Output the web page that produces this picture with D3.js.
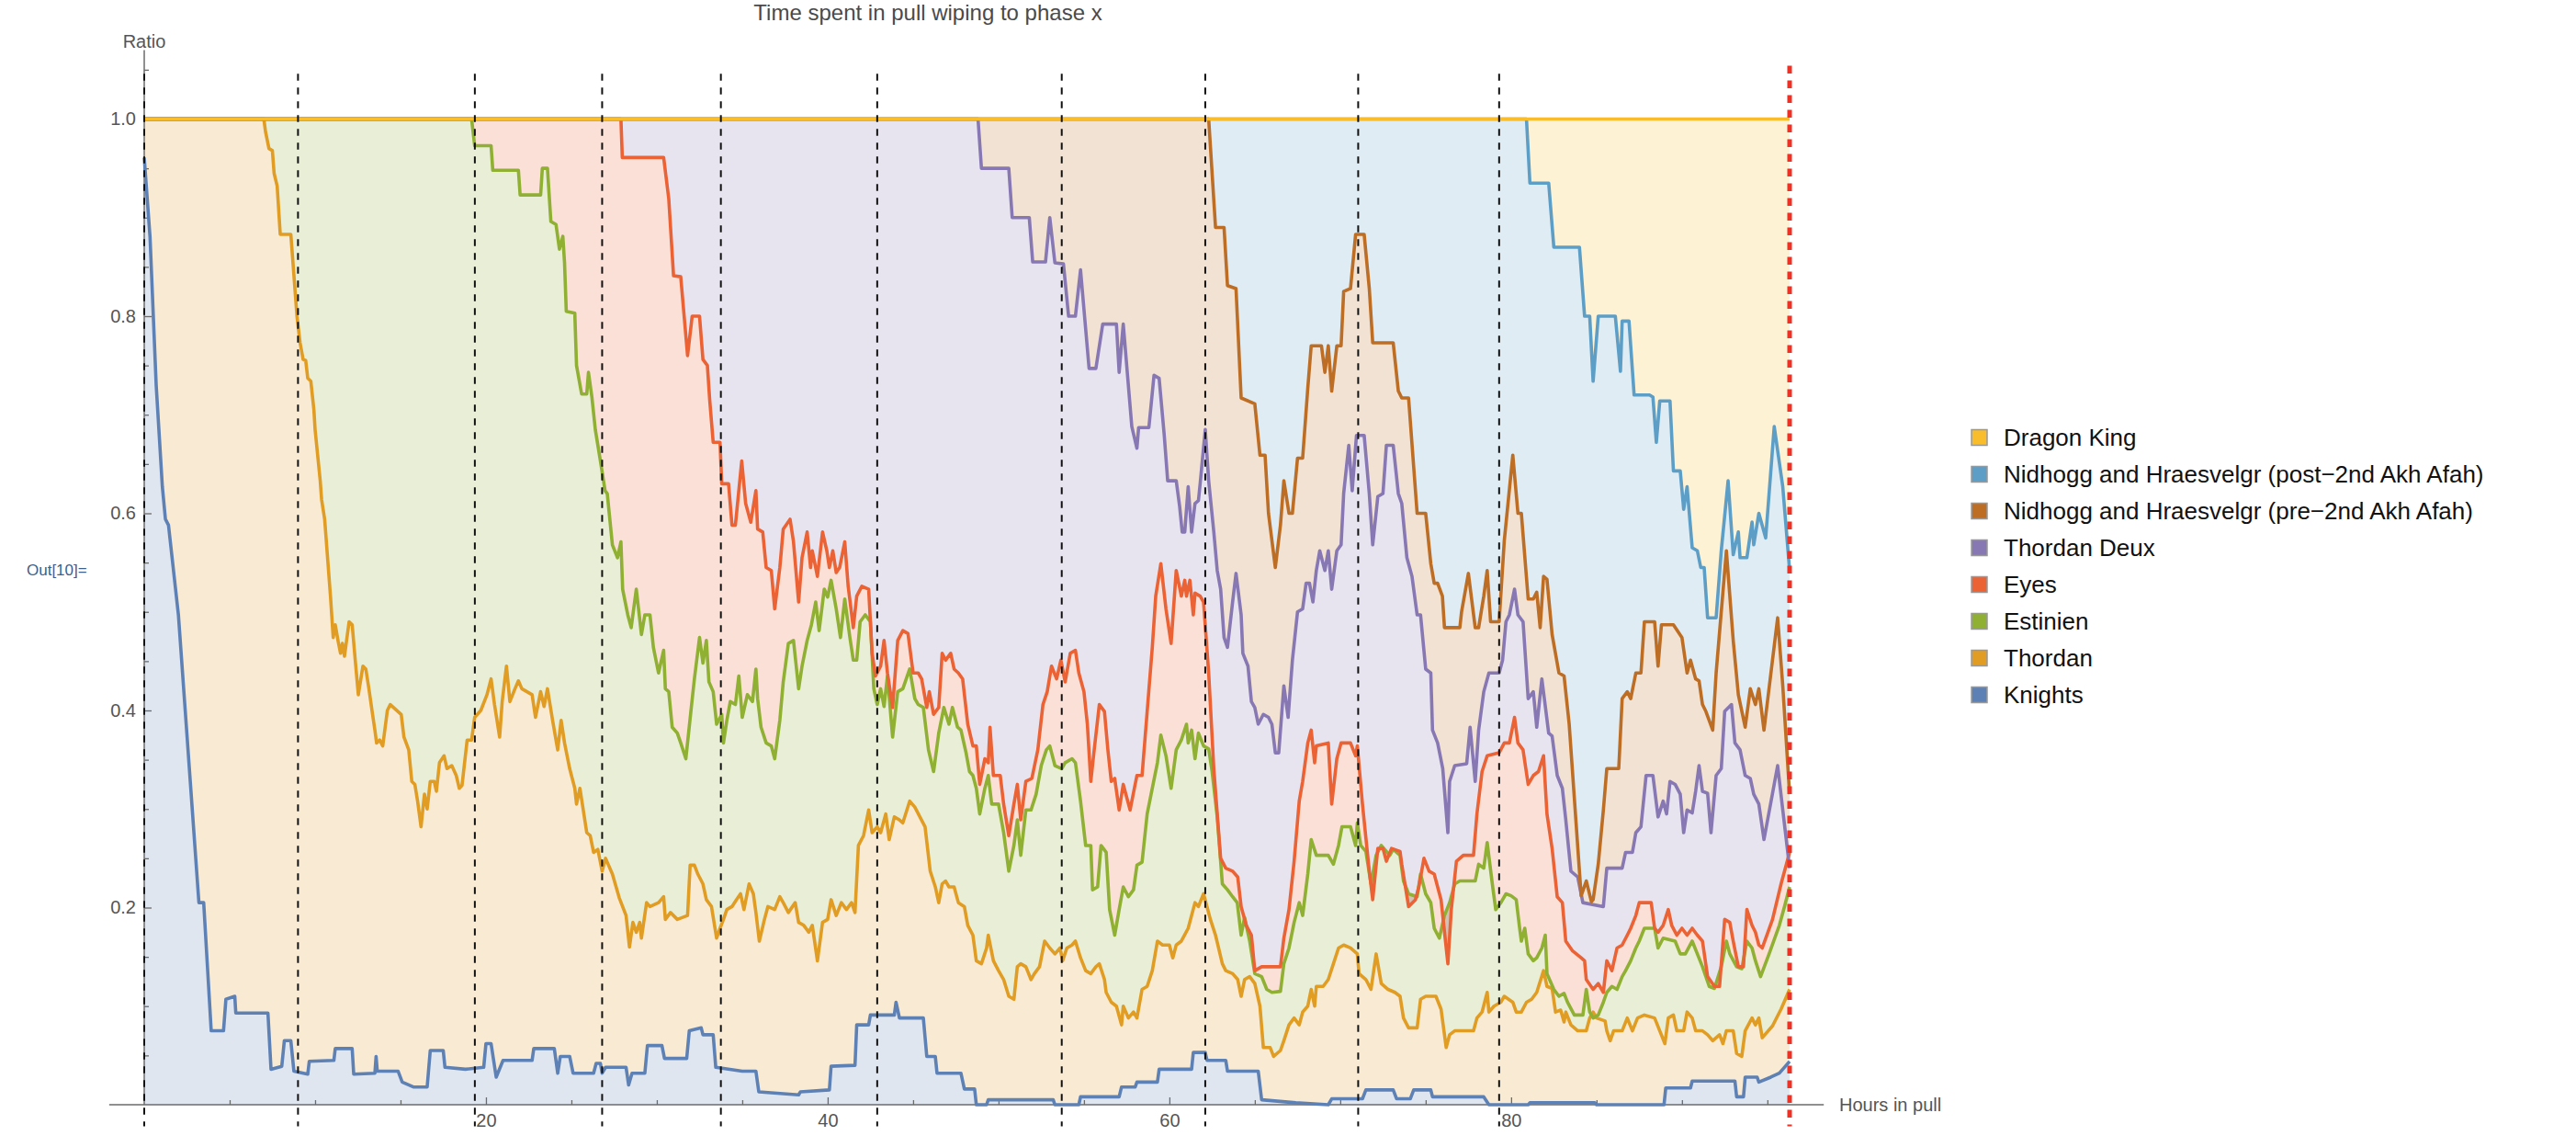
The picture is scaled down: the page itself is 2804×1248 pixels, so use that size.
<!DOCTYPE html>
<meta charset="utf-8">
<html>
<head>
    <script src="https://d3js.org/d3.v7.min.js"></script>
    <style>
        body { margin: 0; background: #fff; }
        text { font-family: "Liberation Sans", Arial, sans-serif; }
    </style>
</head>
<body>
<script>

    // [hours in pull, cumulative ratio], one array per phase
    var knights = [
        [0,0.961],[0.34,0.88],[0.7,0.73],[1.06,0.627],[1.24,0.594],[1.42,0.588],[2.0,0.497],[3.2,0.205],[3.48,0.205],
        [3.92,0.075],[4.64,0.075],[4.78,0.107],[5.3,0.11],[5.36,0.093],[7.24,0.093],[7.42,0.036],[8.05,0.039],[8.2,0.065],
        [8.58,0.065],[8.76,0.034],[9.57,0.031],[9.66,0.044],[11.1,0.045],[11.18,0.057],[12.17,0.057],[12.26,0.031],[13.5,0.032],
        [13.57,0.049],[13.64,0.034],[14.86,0.034],[15.1,0.023],[15.75,0.018],[16.56,0.018],[16.74,0.055],[17.5,0.055],[17.6,0.038],
        [18.8,0.036],[19.87,0.038],[20.0,0.062],[20.3,0.062],[20.6,0.028],[21.0,0.045],[22.7,0.045],[22.8,0.057],[24.0,0.057],
        [24.2,0.032],[24.35,0.049],[24.9,0.049],[25.1,0.032],[26.3,0.032],[26.45,0.042],[26.7,0.042],[26.8,0.032],[27.0,0.038],
        [28.2,0.038],[28.35,0.02],[28.55,0.032],[29.3,0.032],[29.45,0.06],[30.3,0.06],[30.45,0.047],[31.75,0.047],[31.9,0.075],
        [32.6,0.078],[32.7,0.071],[33.3,0.071],[33.45,0.038],[35.0,0.034],[35.8,0.034],[35.97,0.013],[38.3,0.01],[38.4,0.013],
        [40.1,0.015],[40.2,0.039],[41.6,0.04],[41.7,0.081],[42.4,0.081],[42.5,0.091],[43.9,0.091],[44.0,0.104],[44.2,0.088],
        [45.6,0.088],[45.8,0.049],[46.3,0.049],[46.4,0.032],[47.8,0.032],[48.0,0.016],[48.6,0.016],[48.7,0.0],[49.3,0.0],
        [49.4,0.005],[53.2,0.005],[53.3,0.0],[54.7,0.0],[54.8,0.008],[57.06,0.008],[57.2,0.018],[58.0,0.018],[58.1,0.023],
        [59.3,0.023],[59.4,0.036],[61.3,0.036],[61.4,0.053],[62.1,0.053],[62.2,0.045],[63.3,0.045],[63.4,0.034],[65.2,0.034],
        [65.4,0.005],[67.4,0.002],[69.3,0.0],[69.5,0.006],[71.3,0.006],[71.5,0.015],[73.1,0.015],[73.3,0.006],[74.1,0.006],
        [74.3,0.015],[75.3,0.015],[75.4,0.008],[78.4,0.008],[78.7,0.0],[81.0,0.0],[81.1,0.002],[84.9,0.002],[85.0,0.0],
        [88.95,0.0],[89.05,0.017],[90.5,0.017],[90.6,0.024],[93.1,0.024],[93.2,0.008],[93.6,0.008],[93.7,0.028],[94.4,0.028],
        [94.5,0.023],[95.2,0.028],[95.7,0.032],[96.3,0.044]
    ];
    var thordan = [
        [0,1],[7.0,1],[7.1,0.987],[7.3,0.97],[7.5,0.968],[7.6,0.945],[7.78,0.932],[7.96,0.883],[8.58,0.883],[8.94,0.80],
        [9.12,0.773],[9.3,0.756],[9.45,0.755],[9.57,0.737],[9.75,0.734],[9.93,0.705],[10.0,0.685],[10.3,0.633],[10.38,0.614],
        [10.56,0.594],[10.9,0.516],[11.06,0.474],[11.18,0.487],[11.35,0.47],[11.49,0.458],[11.6,0.468],[11.72,0.455],[11.99,0.49],
        [12.17,0.487],[12.35,0.451],[12.53,0.416],[12.8,0.445],[12.97,0.442],[13.15,0.422],[13.33,0.40],[13.5,0.38],[13.6,0.367],
        [13.78,0.37],[13.96,0.364],[14.23,0.40],[14.4,0.406],[15.04,0.396],[15.2,0.373],[15.48,0.36],[15.66,0.328],[15.84,0.325],
        [16.0,0.308],[16.2,0.282],[16.4,0.315],[16.56,0.30],[16.74,0.328],[16.97,0.328],[17.1,0.318],[17.28,0.347],[17.55,0.354],
        [17.72,0.341],[18.0,0.344],[18.26,0.334],[18.44,0.321],[18.6,0.324],[18.9,0.37],[19.16,0.37],[19.34,0.393],[19.7,0.40],
        [20.06,0.416],[20.3,0.432],[20.5,0.406],[20.8,0.373],[20.95,0.409],[21.2,0.445],[21.4,0.409],[21.7,0.422],[21.9,0.43],
        [22.1,0.422],[22.4,0.419],[22.7,0.416],[22.9,0.393],[23.2,0.419],[23.4,0.404],[23.6,0.422],[23.9,0.39],[24.2,0.36],
        [24.4,0.39],[24.6,0.367],[24.9,0.341],[25.2,0.321],[25.3,0.305],[25.5,0.321],[25.9,0.276],[26.1,0.273],[26.3,0.256],
        [26.55,0.259],[26.8,0.237],[27.0,0.25],[27.4,0.234],[27.8,0.21],[28.2,0.192],[28.4,0.16],[28.6,0.185],[28.8,0.175],
        [29.0,0.185],[29.1,0.169],[29.4,0.205],[29.6,0.201],[30.1,0.205],[30.4,0.211],[30.5,0.188],[30.8,0.195],[31.2,0.188],
        [31.8,0.192],[31.95,0.243],[32.2,0.243],[32.4,0.234],[32.7,0.224],[32.9,0.208],[33.2,0.201],[33.5,0.169],[33.7,0.179],
        [33.9,0.188],[34.1,0.198],[34.4,0.201],[34.66,0.208],[34.9,0.214],[35.1,0.198],[35.4,0.224],[35.65,0.214],[35.8,0.195],
        [36.0,0.166],[36.3,0.188],[36.5,0.201],[36.9,0.198],[37.2,0.211],[37.4,0.205],[37.7,0.195],[38.1,0.205],[38.3,0.185],
        [38.6,0.182],[38.9,0.175],[39.1,0.182],[39.4,0.146],[39.7,0.185],[40.0,0.188],[40.2,0.208],[40.5,0.192],[40.8,0.205],
        [41.1,0.198],[41.4,0.205],[41.6,0.195],[41.8,0.263],[42.1,0.273],[42.4,0.299],[42.6,0.276],[42.9,0.282],[43.1,0.276],
        [43.4,0.295],[43.6,0.269],[43.9,0.292],[44.2,0.289],[44.4,0.286],[44.8,0.308],[45.1,0.302],[45.4,0.292],[45.7,0.282],
        [46.0,0.237],[46.3,0.221],[46.5,0.205],[46.7,0.224],[46.9,0.227],[47.1,0.221],[47.4,0.221],[47.65,0.205],[48.0,0.201],
        [48.2,0.182],[48.5,0.172],[48.7,0.146],[49.0,0.143],[49.3,0.159],[49.4,0.172],[49.7,0.146],[50.0,0.136],[50.3,0.127],
        [50.6,0.11],[50.9,0.107],[51.1,0.14],[51.3,0.143],[51.6,0.14],[51.9,0.127],[52.1,0.133],[52.4,0.14],[52.7,0.166],
        [53.0,0.159],[53.3,0.153],[53.6,0.159],[53.75,0.146],[54.0,0.159],[54.3,0.162],[54.5,0.166],[54.8,0.149],[55.1,0.136],
        [55.4,0.133],[55.7,0.14],[55.9,0.143],[56.2,0.127],[56.3,0.114],[56.6,0.104],[56.9,0.10],[57.2,0.081],[57.3,0.10],
        [57.6,0.088],[57.9,0.094],[58.1,0.088],[58.4,0.117],[58.7,0.12],[59.0,0.136],[59.3,0.166],[59.6,0.162],[60.0,0.162],
        [60.2,0.149],[60.4,0.162],[60.7,0.166],[61.1,0.179],[61.3,0.192],[61.5,0.205],[61.7,0.201],[62.0,0.214],[62.2,0.201],
        [62.4,0.188],[62.7,0.172],[63.1,0.143],[63.3,0.136],[63.7,0.133],[64.0,0.127],[64.2,0.11],[64.4,0.127],[64.7,0.13],
        [65.0,0.123],[65.3,0.10],[65.5,0.058],[65.9,0.058],[66.1,0.049],[66.5,0.055],[66.7,0.065],[67.0,0.081],[67.3,0.088],
        [67.6,0.081],[67.8,0.094],[68.1,0.10],[68.3,0.117],[68.5,0.10],[68.6,0.12],[69.0,0.12],[69.3,0.127],[69.6,0.143],
        [69.9,0.159],[70.2,0.162],[70.6,0.159],[71.0,0.153],[71.1,0.133],[71.5,0.127],[71.8,0.117],[72.1,0.153],[72.4,0.123],
        [72.8,0.117],[73.2,0.114],[73.5,0.11],[73.7,0.088],[74.0,0.078],[74.5,0.078],[74.7,0.107],[75.0,0.11],[75.6,0.11],
        [75.9,0.097],[76.2,0.058],[76.4,0.071],[76.7,0.075],[77.8,0.075],[78.0,0.088],[78.3,0.094],[78.6,0.114],[78.7,0.094],
        [79.0,0.10],[79.4,0.104],[79.6,0.11],[80.1,0.104],[80.3,0.094],[80.6,0.094],[80.9,0.104],[81.2,0.107],[81.5,0.114],
        [81.9,0.136],[82.1,0.12],[82.4,0.118],[82.6,0.094],[82.9,0.096],[83.1,0.084],[83.2,0.094],[83.5,0.081],[83.9,0.075],
        [84.4,0.075],[84.6,0.088],[84.8,0.094],[85.0,0.088],[85.5,0.085],[85.6,0.075],[85.8,0.065],[86.0,0.075],[86.5,0.075],
        [86.8,0.088],[87.1,0.075],[87.4,0.088],[87.8,0.091],[88.4,0.088],[88.7,0.075],[89.0,0.062],[89.2,0.088],[89.5,0.091],
        [89.7,0.075],[90.1,0.075],[90.3,0.094],[90.6,0.088],[90.8,0.075],[91.2,0.075],[91.5,0.071],[91.8,0.065],[92.2,0.071],
        [92.4,0.062],[92.6,0.075],[93.0,0.075],[93.2,0.052],[93.5,0.049],[93.7,0.075],[94.1,0.088],[94.3,0.081],[94.5,0.088],
        [94.7,0.068],[95.3,0.08],[95.8,0.097],[96.3,0.117]
    ];
    var estinien = [
        [0,1],[19.16,1],[19.34,0.973],[20.3,0.973],[20.4,0.948],[21.9,0.948],[22.0,0.923],[23.2,0.923],[23.3,0.95],[23.6,0.95],
        [23.8,0.896],[24.1,0.893],[24.3,0.868],[24.5,0.881],[24.6,0.854],[24.7,0.805],[25.2,0.803],[25.3,0.75],[25.6,0.721],
        [25.9,0.721],[26.0,0.743],[26.2,0.718],[26.4,0.685],[26.7,0.653],[26.97,0.623],[27.1,0.62],[27.4,0.568],[27.7,0.555],
        [27.9,0.571],[28.0,0.523],[28.3,0.497],[28.5,0.484],[28.8,0.523],[28.97,0.497],[29.1,0.477],[29.3,0.497],[29.6,0.497],
        [29.8,0.464],[30.1,0.438],[30.4,0.461],[30.5,0.422],[30.7,0.419],[30.9,0.383],[31.2,0.377],[31.4,0.367],[31.7,0.351],
        [32.0,0.40],[32.2,0.432],[32.5,0.474],[32.7,0.448],[32.9,0.471],[33.05,0.429],[33.3,0.419],[33.5,0.386],[33.8,0.396],
        [33.9,0.367],[34.1,0.39],[34.3,0.409],[34.6,0.406],[34.8,0.435],[35.0,0.393],[35.3,0.416],[35.6,0.409],[35.8,0.442],
        [35.9,0.412],[36.1,0.383],[36.4,0.367],[36.7,0.364],[36.9,0.351],[37.2,0.39],[37.4,0.429],[37.7,0.468],[38.0,0.471],
        [38.3,0.422],[38.5,0.445],[38.8,0.471],[39.05,0.487],[39.3,0.51],[39.5,0.481],[39.8,0.523],[40.0,0.515],[40.2,0.532],
        [40.5,0.503],[40.75,0.474],[41.0,0.513],[41.3,0.474],[41.5,0.451],[41.7,0.451],[41.9,0.49],[42.2,0.497],[42.5,0.49],
        [42.7,0.422],[42.9,0.406],[43.1,0.422],[43.3,0.404],[43.5,0.435],[43.8,0.373],[44.1,0.419],[44.4,0.422],[44.8,0.442],
        [45.1,0.412],[45.3,0.406],[45.6,0.403],[45.9,0.36],[46.2,0.338],[46.5,0.377],[46.8,0.403],[47.1,0.386],[47.3,0.403],
        [47.6,0.383],[47.8,0.38],[48.1,0.357],[48.3,0.338],[48.5,0.334],[48.7,0.321],[48.9,0.295],[49.2,0.321],[49.4,0.334],
        [49.6,0.305],[50.0,0.305],[50.3,0.276],[50.6,0.237],[50.9,0.263],[51.1,0.289],[51.3,0.253],[51.6,0.299],[51.9,0.299],
        [52.2,0.315],[52.5,0.344],[52.8,0.36],[53.0,0.364],[53.3,0.344],[53.7,0.341],[53.9,0.347],[54.3,0.351],[54.5,0.347],
        [54.8,0.308],[55.1,0.263],[55.4,0.263],[55.5,0.218],[55.8,0.221],[56.0,0.263],[56.3,0.256],[56.5,0.198],[56.8,0.172],
        [57.06,0.198],[57.3,0.221],[57.6,0.211],[57.9,0.218],[58.1,0.243],[58.4,0.246],[58.7,0.295],[59.0,0.321],[59.3,0.347],
        [59.5,0.375],[59.8,0.354],[60.1,0.321],[60.4,0.36],[60.7,0.37],[61.0,0.386],[61.1,0.367],[61.3,0.38],[61.5,0.351],
        [61.7,0.377],[62.0,0.364],[62.3,0.361],[62.5,0.338],[62.8,0.292],[63.1,0.224],[63.4,0.218],[63.7,0.211],[63.97,0.205],
        [64.2,0.172],[64.4,0.19],[64.7,0.166],[65.0,0.133],[65.4,0.13],[65.7,0.117],[66.0,0.114],[66.5,0.115],[66.7,0.143],
        [67.0,0.159],[67.3,0.185],[67.6,0.205],[67.8,0.192],[68.1,0.234],[68.3,0.269],[68.6,0.253],[69.3,0.253],[69.6,0.244],
        [69.9,0.263],[70.1,0.282],[70.6,0.282],[70.9,0.263],[71.0,0.286],[71.2,0.263],[71.5,0.257],[71.8,0.224],[72.1,0.253],
        [72.4,0.263],[72.9,0.253],[73.1,0.259],[73.5,0.253],[73.7,0.227],[74.0,0.214],[74.5,0.211],[74.7,0.234],[75.0,0.214],
        [75.3,0.205],[75.5,0.179],[75.8,0.169],[76.1,0.192],[76.4,0.205],[76.7,0.224],[77.0,0.227],[77.9,0.227],[78.1,0.244],
        [78.4,0.24],[78.6,0.266],[78.9,0.224],[79.1,0.198],[79.4,0.205],[79.7,0.214],[80.0,0.212],[80.3,0.208],[80.5,0.179],
        [80.6,0.166],[80.8,0.179],[81.0,0.153],[81.3,0.146],[81.5,0.149],[81.8,0.159],[82.0,0.172],[82.1,0.133],[82.5,0.117],
        [82.8,0.11],[83.1,0.113],[83.3,0.104],[83.7,0.091],[84.2,0.091],[84.4,0.117],[84.6,0.094],[84.8,0.088],[85.1,0.091],
        [85.4,0.104],[85.6,0.114],[85.9,0.12],[86.2,0.117],[86.5,0.13],[86.7,0.136],[87.0,0.146],[87.3,0.159],[87.5,0.166],
        [87.8,0.179],[88.4,0.179],[88.6,0.159],[88.9,0.169],[89.6,0.166],[89.9,0.153],[90.2,0.153],[90.6,0.166],[90.9,0.153],
        [91.2,0.14],[91.6,0.12],[91.9,0.118],[92.3,0.14],[92.6,0.166],[92.8,0.153],[93.2,0.14],[93.5,0.138],[93.8,0.166],
        [94.1,0.159],[94.3,0.146],[94.6,0.13],[95.1,0.153],[95.7,0.182],[96.0,0.201],[96.3,0.221]
    ];
    var eyes = [
        [0,1],[27.9,1],[27.98,0.961],[30.4,0.961],[30.7,0.919],[30.98,0.841],[31.4,0.84],[31.8,0.76],[32.07,0.80],[32.5,0.80],
        [32.7,0.756],[32.96,0.75],[33.1,0.714],[33.3,0.672],[33.7,0.672],[33.8,0.63],[34.2,0.63],[34.4,0.588],[34.6,0.588],
        [34.97,0.653],[35.2,0.61],[35.5,0.591],[35.8,0.623],[35.9,0.584],[36.2,0.581],[36.4,0.545],[36.7,0.542],[36.9,0.503],
        [37.2,0.545],[37.4,0.584],[37.8,0.594],[38.0,0.571],[38.3,0.51],[38.5,0.555],[38.8,0.581],[39.0,0.545],[39.1,0.562],
        [39.4,0.536],[39.7,0.581],[39.95,0.562],[40.1,0.545],[40.3,0.562],[40.5,0.54],[40.7,0.545],[41.0,0.571],[41.2,0.526],
        [41.5,0.484],[41.7,0.516],[42.0,0.526],[42.4,0.523],[42.6,0.458],[42.8,0.435],[43.1,0.445],[43.3,0.471],[43.5,0.438],
        [43.8,0.403],[44.1,0.471],[44.4,0.481],[44.7,0.478],[45.0,0.438],[45.3,0.438],[45.5,0.432],[45.8,0.403],[45.95,0.419],
        [46.2,0.396],[46.5,0.403],[46.7,0.458],[46.9,0.451],[47.2,0.458],[47.4,0.442],[47.65,0.438],[47.9,0.432],[48.2,0.386],
        [48.5,0.364],[48.7,0.364],[48.9,0.325],[49.2,0.351],[49.4,0.347],[49.5,0.383],[49.7,0.334],[50.1,0.334],[50.3,0.305],
        [50.6,0.273],[50.9,0.305],[51.1,0.325],[51.3,0.289],[51.6,0.328],[51.95,0.331],[52.3,0.36],[52.6,0.406],[52.85,0.419],
        [53.1,0.445],[53.4,0.432],[53.65,0.451],[53.9,0.429],[54.2,0.458],[54.5,0.461],[54.7,0.438],[55.0,0.419],[55.2,0.386],
        [55.4,0.328],[55.6,0.36],[55.9,0.406],[56.2,0.399],[56.4,0.36],[56.6,0.328],[56.8,0.331],[57.06,0.299],[57.3,0.325],
        [57.7,0.299],[57.95,0.321],[58.1,0.334],[58.4,0.334],[58.7,0.399],[59.0,0.464],[59.2,0.516],[59.5,0.549],[59.8,0.503],
        [60.1,0.468],[60.4,0.542],[60.7,0.516],[60.9,0.532],[61.0,0.516],[61.2,0.532],[61.4,0.497],[61.5,0.519],[61.8,0.516],
        [62.0,0.51],[62.3,0.438],[62.6,0.341],[63.0,0.25],[63.3,0.24],[63.7,0.237],[64.0,0.231],[64.2,0.201],[64.5,0.182],
        [64.8,0.172],[65.0,0.136],[65.4,0.14],[66.5,0.14],[66.7,0.169],[67.0,0.198],[67.3,0.247],[67.6,0.308],[67.8,0.328],
        [68.1,0.367],[68.3,0.38],[68.5,0.347],[68.6,0.364],[69.3,0.367],[69.5,0.305],[69.8,0.351],[70.05,0.367],[70.6,0.367],
        [70.9,0.354],[71.0,0.364],[71.3,0.305],[71.7,0.237],[71.9,0.208],[72.2,0.26],[72.5,0.26],[72.7,0.247],[73.0,0.26],
        [73.5,0.257],[73.6,0.244],[74.0,0.201],[74.4,0.208],[74.6,0.221],[74.9,0.25],[75.2,0.237],[75.5,0.234],[75.9,0.208],
        [76.3,0.143],[76.5,0.198],[76.8,0.247],[77.2,0.253],[77.8,0.253],[78.0,0.295],[78.3,0.338],[78.6,0.354],[79.3,0.357],
        [79.6,0.367],[79.9,0.367],[80.2,0.393],[80.4,0.367],[80.7,0.36],[81.0,0.325],[81.3,0.334],[81.6,0.338],[81.9,0.354],
        [82.1,0.295],[82.4,0.26],[82.7,0.211],[83.0,0.205],[83.2,0.166],[83.6,0.156],[84.1,0.149],[84.3,0.146],[84.4,0.127],
        [84.8,0.117],[85.1,0.123],[85.4,0.114],[85.6,0.146],[85.9,0.136],[86.2,0.159],[86.5,0.162],[86.8,0.172],[87.0,0.179],
        [87.3,0.192],[87.5,0.205],[88.2,0.205],[88.4,0.179],[88.6,0.175],[88.9,0.182],[89.2,0.198],[89.4,0.182],[89.7,0.172],
        [90.0,0.179],[90.3,0.172],[90.6,0.179],[90.9,0.172],[91.2,0.166],[91.5,0.13],[91.9,0.12],[92.2,0.12],[92.5,0.188],
        [92.8,0.185],[93.0,0.166],[93.3,0.14],[93.6,0.14],[93.8,0.198],[94.1,0.182],[94.3,0.175],[94.5,0.162],[94.7,0.159],
        [95.3,0.188],[95.8,0.224],[96.3,0.256]
    ];
    var thordanDeux = [
        [0,1],[48.8,1],[49.0,0.95],[50.6,0.95],[50.8,0.90],[51.8,0.90],[52.0,0.855],[52.75,0.855],[53.0,0.90],[53.3,0.854],
        [53.8,0.853],[54.1,0.80],[54.5,0.80],[54.8,0.847],[55.3,0.747],[55.7,0.747],[56.1,0.792],[56.9,0.792],[57.06,0.743],
        [57.3,0.792],[57.8,0.688],[58.1,0.666],[58.2,0.687],[58.8,0.687],[59.1,0.74],[59.4,0.737],[59.7,0.679],[59.9,0.633],
        [60.4,0.633],[60.6,0.607],[60.75,0.581],[60.9,0.581],[61.1,0.627],[61.3,0.581],[61.5,0.61],[61.7,0.613],[61.8,0.63],
        [62.1,0.685],[62.3,0.633],[62.6,0.581],[62.8,0.542],[63.0,0.523],[63.2,0.474],[63.4,0.464],[63.7,0.51],[63.9,0.539],
        [64.2,0.497],[64.3,0.458],[64.6,0.445],[64.8,0.409],[65.0,0.403],[65.2,0.386],[65.5,0.396],[65.8,0.393],[66.0,0.386],
        [66.2,0.357],[66.4,0.357],[66.7,0.425],[66.95,0.393],[67.2,0.451],[67.5,0.50],[67.8,0.503],[68.0,0.529],[68.2,0.529],
        [68.4,0.51],[68.6,0.542],[68.8,0.562],[69.1,0.542],[69.3,0.562],[69.5,0.523],[69.8,0.562],[70.05,0.568],[70.2,0.62],
        [70.5,0.669],[70.7,0.623],[70.95,0.679],[71.4,0.679],[71.7,0.62],[71.9,0.568],[72.2,0.617],[72.5,0.62],[72.7,0.669],
        [73.1,0.669],[73.4,0.62],[73.6,0.61],[73.9,0.555],[74.2,0.536],[74.5,0.497],[74.7,0.497],[75.0,0.442],[75.3,0.438],
        [75.4,0.38],[75.7,0.367],[76.0,0.341],[76.3,0.276],[76.4,0.328],[76.7,0.344],[77.4,0.346],[77.6,0.383],[77.9,0.328],
        [78.1,0.38],[78.4,0.419],[78.7,0.438],[79.3,0.438],[79.5,0.451],[79.7,0.49],[79.9,0.497],[80.2,0.523],[80.4,0.497],
        [80.7,0.49],[81.0,0.412],[81.3,0.419],[81.5,0.383],[81.8,0.432],[82.2,0.377],[82.4,0.374],[82.7,0.334],[83.0,0.321],
        [83.2,0.289],[83.5,0.237],[83.9,0.231],[84.2,0.205],[85.4,0.201],[85.6,0.24],[86.5,0.24],[86.7,0.256],[87.1,0.256],
        [87.3,0.276],[87.6,0.282],[87.9,0.334],[88.3,0.334],[88.6,0.292],[88.9,0.308],[89.1,0.295],[89.3,0.328],[89.6,0.325],
        [89.9,0.315],[90.1,0.276],[90.3,0.299],[90.6,0.296],[90.8,0.318],[91.0,0.344],[91.2,0.318],[91.5,0.316],[91.7,0.276],
        [92.0,0.334],[92.3,0.341],[92.5,0.399],[92.9,0.406],[93.1,0.367],[93.4,0.36],[93.7,0.334],[94.0,0.331],[94.2,0.315],
        [94.5,0.305],[94.8,0.269],[95.6,0.344],[95.9,0.299],[96.3,0.24]
    ];
    var nidhoggPre = [
        [0,1],[62.3,1],[62.7,0.89],[63.2,0.89],[63.4,0.831],[63.9,0.828],[64.2,0.717],[65.0,0.711],[65.3,0.659],[65.6,0.659],
        [65.8,0.60],[66.2,0.545],[66.5,0.588],[66.7,0.633],[67.0,0.60],[67.2,0.60],[67.5,0.656],[67.8,0.656],[68.1,0.727],
        [68.3,0.77],[68.9,0.77],[69.1,0.743],[69.3,0.77],[69.5,0.724],[69.8,0.77],[70.05,0.77],[70.2,0.825],[70.6,0.828],
        [70.9,0.883],[71.4,0.883],[71.7,0.828],[71.9,0.773],[73.1,0.773],[73.4,0.724],[73.6,0.717],[74.0,0.717],[74.5,0.60],
        [75.0,0.60],[75.3,0.549],[75.5,0.529],[75.7,0.529],[75.98,0.516],[76.1,0.484],[77.0,0.484],[77.1,0.50],[77.5,0.539],
        [77.9,0.484],[78.1,0.484],[78.4,0.516],[78.6,0.542],[78.8,0.49],[79.3,0.49],[79.6,0.572],[80.1,0.659],[80.4,0.60],
        [80.6,0.60],[81.0,0.513],[81.3,0.513],[81.5,0.52],[81.7,0.484],[81.9,0.536],[82.1,0.533],[82.4,0.477],[82.8,0.438],
        [83.1,0.435],[83.4,0.386],[84.1,0.212],[84.4,0.227],[84.7,0.206],[84.8,0.208],[85.1,0.244],[85.4,0.299],[85.6,0.341],
        [86.3,0.341],[86.5,0.412],[86.8,0.419],[87.0,0.412],[87.3,0.438],[87.6,0.438],[87.8,0.49],[88.4,0.49],[88.6,0.445],
        [88.8,0.487],[89.5,0.487],[90.0,0.474],[90.3,0.438],[90.5,0.451],[90.8,0.432],[91.0,0.43],[91.2,0.406],[91.4,0.399],
        [91.8,0.38],[92.0,0.438],[92.6,0.562],[93.0,0.471],[93.3,0.416],[93.7,0.383],[94.0,0.422],[94.3,0.406],[94.5,0.422],
        [94.8,0.38],[95.6,0.494],[95.9,0.425],[96.3,0.315]
    ];
    var nidhoggPost = [
        [0,1],[80.9,1],[81.1,0.935],[82.2,0.935],[82.5,0.87],[84.0,0.87],[84.3,0.80],[84.6,0.80],[84.8,0.734],[85.1,0.80],
        [86.1,0.80],[86.4,0.744],[86.5,0.795],[86.9,0.795],[87.2,0.72],[88.1,0.72],[88.3,0.718],[88.5,0.672],[88.7,0.714],
        [89.3,0.714],[89.5,0.643],[89.9,0.643],[90.1,0.604],[90.3,0.627],[90.6,0.565],[90.9,0.562],[91.1,0.545],[91.3,0.545],
        [91.5,0.494],[92.0,0.494],[92.3,0.562],[92.7,0.633],[93.0,0.558],[93.3,0.581],[93.4,0.555],[93.8,0.555],[94.1,0.591],
        [94.2,0.568],[94.5,0.60],[94.9,0.575],[95.4,0.688],[95.9,0.627],[96.3,0.542]
    ];
    var dragonKing = [[0,1],[96.3,1]];

    var phaseNames = ["Knights", "Thordan", "Estinien", "Eyes", "Thordan Deux",
        "Nidhogg and Hraesvelgr (pre\u22122nd Akh Afah)",
        "Nidhogg and Hraesvelgr (post\u22122nd Akh Afah)", "Dragon King"];
    var phaseColors = ["#5E81B5", "#E19C24", "#8FB032", "#EB6235", "#8778B3",
        "#BD6E24", "#5D9EC7", "#F9BD2C"];
    var phaseSeries = [knights, thordan, estinien, eyes, thordanDeux,
        nidhoggPre, nidhoggPost, dragonKing];
    var baseline = [[0,0],[96.3,0]];

    // dashed markers (hours)
    var phaseMarks = [0, 9.0, 19.35, 26.8, 33.75, 42.9, 53.7, 62.1, 71.05, 79.3];
    var endMark = 96.3;

    var yTicks = [0.2, 0.4, 0.6, 0.8, 1.0];
    var yMinor = [0.05, 0.1, 0.15, 0.25, 0.3, 0.35, 0.45, 0.5, 0.55, 0.65, 0.7, 0.75, 0.85, 0.9, 0.95, 1.05];
    var xTicks = [20, 40, 60, 80];
    var xMinor = [5, 10, 15, 25, 30, 35, 45, 50, 55, 65, 70, 75, 85, 90, 95];

    var largura = 2804;
    var altura = 1248;

    var svg = d3.select("body").append("svg")
        .attr("width", largura)
        .attr("height", altura);

    svg.append("rect").attr("width", largura).attr("height", altura).attr("fill", "#fff");

    var x = d3.scaleLinear().domain([0, 96.3]).range([157, 1948]);
    var y = d3.scaleLinear().domain([0, 1]).range([1202, 129.5]);

    var linha = d3.line()
        .x(function (d) { return x(d[0]); })
        .y(function (d) { return y(d[1]); });

    // filled bands between consecutive curves
    var gAreas = svg.append("g");
    phaseSeries.forEach(function (pts, i) {
        var below = i === 0 ? baseline : phaseSeries[i - 1];
        var poly = pts.concat(below.slice().reverse());
        gAreas.append("path")
            .attr("d", linha(poly) + "Z")
            .attr("fill", phaseColors[i])
            .attr("fill-opacity", 0.2);
    });

    // axes
    var axisColor = "#6b6b6b";
    var labelColor = "#555";

    var yAxis = svg.append("g")
        .attr("transform", "translate(" + x(0) + ",0)")
        .call(d3.axisLeft(y).tickValues(yTicks).tickSizeInner(-8).tickSizeOuter(0)
            .tickPadding(9).tickFormat(d3.format(".1f")));
    yAxis.select(".domain").remove();
    var yAxisMinor = svg.append("g")
        .attr("transform", "translate(" + x(0) + ",0)")
        .call(d3.axisLeft(y).tickValues(yMinor).tickSizeInner(-5).tickSizeOuter(0).tickFormat(""));
    yAxisMinor.select(".domain").remove();

    var xAxis = svg.append("g")
        .attr("transform", "translate(0," + y(0) + ")")
        .call(d3.axisBottom(x).tickValues(xTicks).tickSizeInner(-8).tickSizeOuter(0).tickPadding(10));
    xAxis.select(".domain").remove();
    var xAxisMinor = svg.append("g")
        .attr("transform", "translate(0," + y(0) + ")")
        .call(d3.axisBottom(x).tickValues(xMinor).tickSizeInner(-5).tickSizeOuter(0).tickFormat(""));
    xAxisMinor.select(".domain").remove();

    svg.selectAll(".tick line").attr("stroke", axisColor).attr("stroke-width", 1.3);
    svg.selectAll(".tick text")
        .attr("fill", labelColor)
        .style("font-size", "20px")
        .style("font-family", "'Liberation Sans', Arial, sans-serif");

    svg.append("line")
        .attr("x1", x(0)).attr("x2", x(0))
        .attr("y1", y(1.07)).attr("y2", y(0))
        .attr("stroke", axisColor).attr("stroke-width", 1.5);
    svg.append("line")
        .attr("x1", x(-2.05)).attr("x2", x(98.3))
        .attr("y1", y(0)).attr("y2", y(0))
        .attr("stroke", axisColor).attr("stroke-width", 1.5);

    // curves
    var gLines = svg.append("g");
    phaseSeries.forEach(function (pts, i) {
        gLines.append("path")
            .attr("d", linha(pts))
            .attr("fill", "none")
            .attr("stroke", phaseColors[i])
            .attr("stroke-width", 3.6)
            .attr("stroke-linejoin", "round");
    });

    // phase markers
    svg.selectAll(".marca")
        .data(phaseMarks)
        .enter().append("line")
        .attr("class", "marca")
        .attr("x1", function (d) { return x(d); })
        .attr("x2", function (d) { return x(d); })
        .attr("y1", y(1.046))
        .attr("y2", y(-0.022))
        .attr("stroke", "#111")
        .attr("stroke-width", 2)
        .attr("stroke-dasharray", "7.5,7.5");

    svg.append("line")
        .attr("x1", x(endMark)).attr("x2", x(endMark))
        .attr("y1", y(1.054)).attr("y2", y(-0.022))
        .attr("stroke", "#EE3124")
        .attr("stroke-width", 5)
        .attr("stroke-dasharray", "8.3,7.7");

    // labels
    svg.append("text")
        .attr("x", 1010).attr("y", 14)
        .attr("dy", "0.35em")
        .attr("text-anchor", "middle")
        .attr("fill", "#4a4a4a")
        .style("font-size", "24px")
        .text("Time spent in pull wiping to phase x");

    svg.append("text")
        .attr("x", x(0)).attr("y", 45)
        .attr("dy", "0.35em")
        .attr("text-anchor", "middle")
        .attr("fill", labelColor)
        .style("font-size", "20px")
        .text("Ratio");

    svg.append("text")
        .attr("x", 2002).attr("y", y(0))
        .attr("dy", "0.35em")
        .attr("fill", labelColor)
        .style("font-size", "20px")
        .text("Hours in pull");

    svg.append("text")
        .attr("x", 29).attr("y", 620)
        .attr("dy", "0.35em")
        .attr("fill", "#3E5F8A")
        .style("font-size", "17px")
        .text("Out[10]=");

    // legend (top to bottom: last phase first)
    var legenda = svg.append("g").attr("class", "legenda");
    var ordem = d3.range(phaseNames.length).reverse();
    ordem.forEach(function (idx, row) {
        var cy = 476 + row * 40;
        legenda.append("rect")
            .attr("x", 2146).attr("y", cy - 8.5)
            .attr("width", 17).attr("height", 17)
            .attr("fill", phaseColors[idx])
            .attr("stroke", "#999")
            .attr("stroke-width", 1.5);
        legenda.append("text")
            .attr("x", 2181).attr("y", cy)
            .attr("dy", "0.35em")
            .attr("fill", "#111")
            .style("font-size", "26px")
            .text(phaseNames[idx]);
    });

</script>
</body>
</html>
